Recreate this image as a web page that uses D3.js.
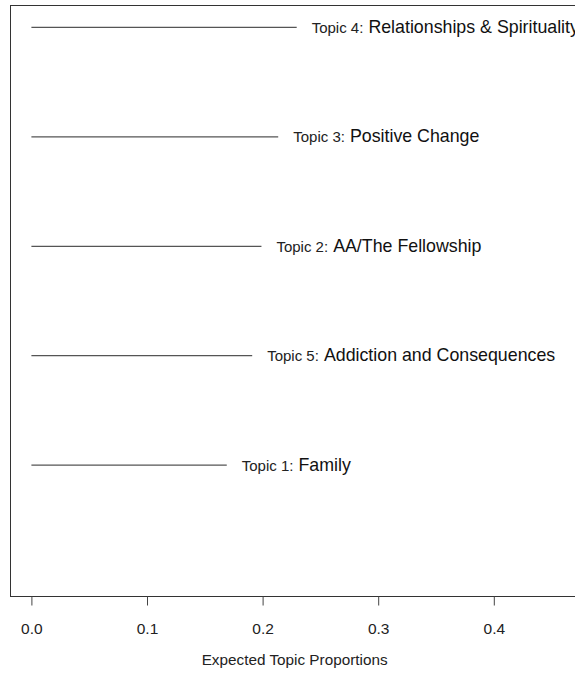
<!DOCTYPE html>
<html>
<head>
<meta charset="utf-8">
<script src="https://cdn.jsdelivr.net/npm/d3@7"></script>
<style>
  html, body { margin: 0; padding: 0; background: #fff; }
  svg { display: block; font-family: "Liberation Sans", Arial, Helvetica, sans-serif; }
</style>
</head>
<body>
<svg id="chart" width="575" height="673"></svg>
<script>
// Data (ordered bottom to top)
const topicLabels = ["Topic 1:", "Topic 5:", "Topic 2:", "Topic 3:", "Topic 4:"];
const topicNames = ["Family", "Addiction and Consequences", "AA/The Fellowship", "Positive Change", "Relationships & Spirituality"];
const proportions = [0.169, 0.191, 0.199, 0.2135, 0.2295];
const tickValues = [0.0, 0.1, 0.2, 0.3, 0.4];
const axisTitle = "Expected Topic Proportions";

const svg = d3.select("#chart");
const box = { left: 10, top: 5, bottom: 596, right: 620 };

const x = d3.scaleLinear().domain([0, 0.4]).range([31.4, 493.8]);
const y = d3.scaleLinear().domain([-0.2, 5.2]).range([box.bottom, box.top]);

// plot box
svg.append("rect")
  .attr("x", box.left + 0.5).attr("y", box.top + 0.5)
  .attr("width", box.right - box.left).attr("height", box.bottom - box.top)
  .attr("fill", "none").attr("stroke", "#333").attr("stroke-width", 1);

// x axis
const axis = d3.axisBottom(x)
  .tickValues(tickValues)
  .tickFormat(d3.format(".1f"))
  .tickSize(9)
  .tickSizeOuter(0)
  .tickPadding(17);
const gx = svg.append("g").attr("transform", `translate(0,${box.bottom + 0.5})`).call(axis);
gx.select(".domain").remove();
gx.selectAll(".tick line").attr("stroke", "#444");
gx.selectAll(".tick text")
  .attr("fill", "#222")
  .style("font-size", "15.5px")
  .style("font-family", "'Liberation Sans', Arial, sans-serif");

svg.append("text")
  .attr("x", x(0.2) + 32)
  .attr("y", 665)
  .attr("text-anchor", "middle")
  .attr("fill", "#222")
  .style("font-size", "15.3px")
  .text(axisTitle);

// segments
const rows = proportions.map((p, i) => ({ p, rank: i + 1, lab: topicLabels[i], name: topicNames[i] }));

svg.selectAll("line.seg")
  .data(rows).join("line")
  .attr("class", "seg")
  .attr("x1", x(0)).attr("x2", d => x(d.p))
  .attr("y1", d => y(d.rank) + 0.5).attr("y2", d => y(d.rank) + 0.5)
  .attr("stroke", "#555").attr("stroke-width", 1.2);

const labels = svg.selectAll("text.lab")
  .data(rows).join("text")
  .attr("class", "lab")
  .attr("x", d => x(d.p) + 15)
  .attr("y", d => y(d.rank) + 6)
  .attr("fill", "#111");
labels.append("tspan").style("font-size", "15px").attr("fill", "#222").text(d => d.lab);
labels.append("tspan").attr("dx", 5).style("font-size", "17.8px").text(d => d.name);
</script>
</body>
</html>
